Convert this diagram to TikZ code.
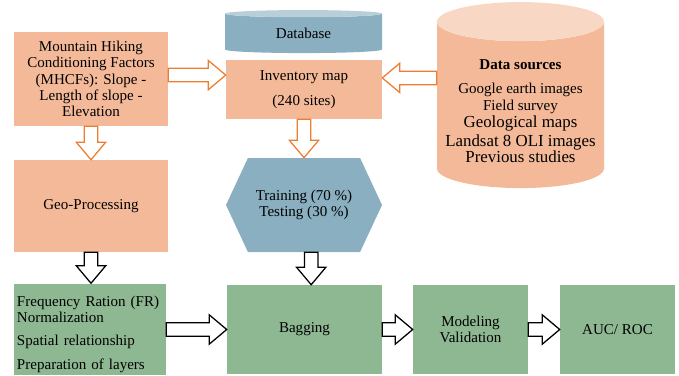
\documentclass[tikz,border=0pt]{standalone}
\usepackage{fontspec}
\setmainfont{Liberation Serif}
\usetikzlibrary{calc,shapes.geometric,shapes.symbols}

\definecolor{salmon}{RGB}{244,185,152}
\definecolor{salmontop}{RGB}{249,215,197}
\definecolor{steel}{RGB}{138,175,192}
\definecolor{steeltop}{RGB}{184,207,218}
\definecolor{sage}{RGB}{141,184,146}
\definecolor{arroworange}{RGB}{237,125,49}

% hollow block arrow from #2 to #3
\newcommand{\blockarrow}[3][]{%
  \draw[#1] ($(#2)!4.8pt!90:(#3)$) -- ($(#3)!12.5pt!(#2)!4.8pt!90:(#3)$)
    -- ($(#3)!12.5pt!(#2)!10.5pt!90:(#3)$) -- (#3)
    -- ($(#3)!12.5pt!(#2)!10.5pt!-90:(#3)$) -- ($(#3)!12.5pt!(#2)!4.8pt!-90:(#3)$)
    -- ($(#2)!4.8pt!-90:(#3)$) -- cycle;}
\newcommand{\bigline}{\fontsize{12}{13.5}\selectfont}

\tikzset{
  box/.style={rectangle, inner sep=2pt, align=center,
    font=\fontsize{10.7}{11.6}\selectfont},
  orangebox/.style={box, fill=salmon},
  greenbox/.style={box, fill=sage, minimum height=2.225cm},
  store/.style={cylinder, shape border rotate=90, cylinder uses custom fill,
    inner sep=0pt, align=center, font=\fontsize{10.7}{12}\selectfont},
  oarrow/.style={draw=arroworange, fill=white, line width=0.9pt},
  karrow/.style={draw=black, fill=white, line width=0.9pt},
}

\begin{document}
\begin{tikzpicture}
\useasboundingbox (0,0) rectangle (16.975,9.375);

% top row
\node[orangebox, minimum width=3.85cm, minimum height=2.35cm] (mhcf) at (2.275,7.4)
  {Mountain Hiking\\Conditioning Factors\\(MHCFs): Slope -\\Length of slope -\\Elevation};
\node[store, cylinder body fill=steel, cylinder end fill=steeltop,
  minimum width=3.925cm, minimum height=1.075cm, aspect=0.13] (db) at (7.5875,8.5375) {Database};
\node[orangebox, minimum width=3.9cm, minimum height=1.475cm] (inv) at (7.6,7.1375)
  {\rule{0pt}{5pt}Inventory map\\[6pt](240 sites)};
\node[store, cylinder body fill=salmon, cylinder end fill=salmontop,
  minimum width=4.175cm, minimum height=4.65cm, aspect=0.26] (ds) at (13.0125,6.75)
  {\rule{0pt}{16pt}\textbf{Data sources}\\[5pt]Google earth images\\Field survey\\[0.5pt]
   \bigline Geological maps\\[1pt]\bigline Landsat 8 OLI images\\\bigline Previous studies};

% middle row
\node[orangebox, minimum width=3.85cm, minimum height=2.3cm] (geo) at (2.275,4.225) {Geo-Processing};
\node[box, signal, signal to=west and east, signal pointer angle=130, fill=steel,
  minimum width=3.9cm, minimum height=2.35cm] (split) at (7.6,4.25)
  {Training (70 \%)\\Testing (30 \%)};

% bottom row
\node[greenbox, minimum width=3.8cm, inner sep=0.075cm, text width=3.65cm, align=left] (fr) at (2.25,1.1375)
  {\rule{0pt}{14pt}Frequency Ration (FR)\\Normalization\\[5pt]Spatial relationship\\[5pt]Preparation of layers};
\node[greenbox, minimum width=3.875cm] (bag) at (7.6125,1.1375) {Bagging};
\node[greenbox, minimum width=2.875cm] (val) at (11.7625,1.1375) {Modeling\\Validation};
\node[greenbox, minimum width=2.875cm] (auc) at (15.4375,1.1375) {AUC/ ROC};

% arrows
\coordinate (t1) at ($(inv.west)+(0,0.36)$);
\coordinate (t2) at ($(inv.east)+(0,0.29)$);
\coordinate (t3) at ($(split.south)+(0.18,0)$);
\blockarrow[oarrow]{mhcf.east |- t1}{t1}
\blockarrow[oarrow]{ds.west |- t2}{t2}
\blockarrow[oarrow]{inv.south}{split.north}
\blockarrow[oarrow]{mhcf.south}{geo.north}
\blockarrow[karrow]{geo.south}{geo.south |- fr.north}
\blockarrow[karrow]{t3}{t3 |- bag.north}
\blockarrow[karrow]{fr.east}{bag.west}
\blockarrow[karrow]{bag.east}{val.west}
\blockarrow[karrow]{val.east}{auc.west}
\end{tikzpicture}
\end{document}
